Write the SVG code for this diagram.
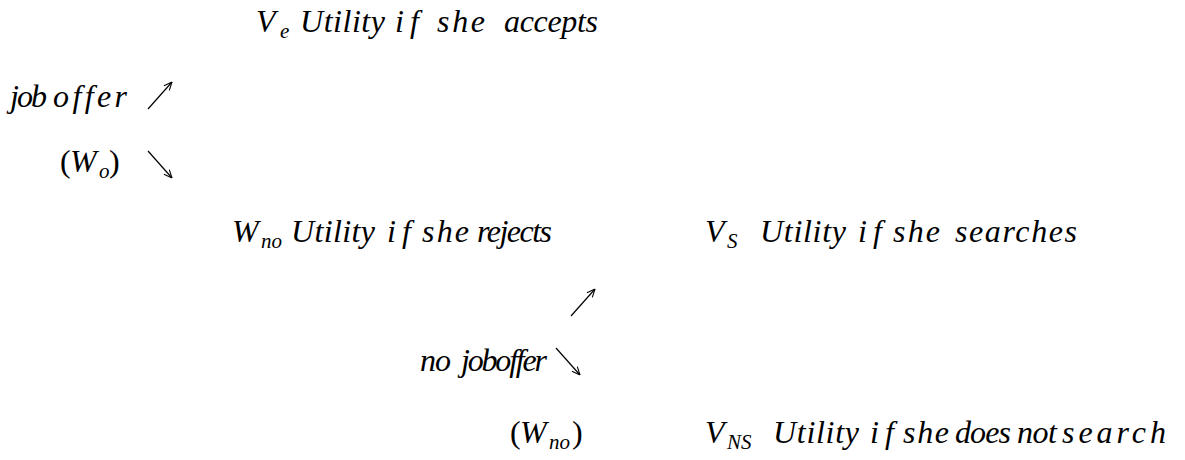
<svg xmlns="http://www.w3.org/2000/svg" width="1185" height="460" viewBox="0 0 1185 460">
<style>
text{font-family:"Liberation Serif","Times New Roman",serif;font-style:italic;font-size:32px;fill:#000}
.r{font-style:normal}
.s{font-size:21px}
.a{stroke:#000;stroke-width:1.2;fill:none}
</style>
<defs>
<marker id="ah" viewBox="0 0 10 10" refX="10" refY="5" markerWidth="9" markerHeight="9" markerUnits="userSpaceOnUse" orient="auto">
<path d="M1,1 L10,5 L1,9" fill="none" stroke="#000" stroke-width="1.2"/>
</marker>
</defs>
<g id="accept">
<text x="256" y="32">V</text><text class="s" x="280" y="38">e</text>
<text x="300" y="32" textLength="85" lengthAdjust="spacing">Utility</text>
<text x="395" y="32" textLength="24" lengthAdjust="spacing">if</text>
<text x="437" y="32" textLength="48" lengthAdjust="spacing">she</text>
<text x="504" y="32" textLength="94" lengthAdjust="spacing">accepts</text>
</g>
<g id="joboffer">
<text x="10" y="107" textLength="37" lengthAdjust="spacing">job</text>
<text x="53" y="107" textLength="74" lengthAdjust="spacing">offer</text>
</g>
<g id="wo">
<text class="r" x="60" y="172">(</text><text x="70" y="172">W</text><text class="s" x="99" y="178">o</text><text class="r" x="109" y="172">)</text>
</g>
<g id="reject">
<text x="232" y="242">W</text><text class="s" x="261" y="248">no</text>
<text x="291" y="242" textLength="84" lengthAdjust="spacing">Utility</text>
<text x="387" y="242" textLength="24" lengthAdjust="spacing">if</text>
<text x="422" y="242" textLength="47" lengthAdjust="spacing">she</text>
<text x="477" y="242" textLength="75" lengthAdjust="spacing">rejects</text>
</g>
<g id="search">
<text x="705" y="242">V</text><text class="s" x="727" y="248">S</text>
<text x="760" y="242" textLength="86" lengthAdjust="spacing">Utility</text>
<text x="858" y="242" textLength="24" lengthAdjust="spacing">if</text>
<text x="893" y="242" textLength="47" lengthAdjust="spacing">she</text>
<text x="955" y="242" textLength="122" lengthAdjust="spacing">searches</text>
</g>
<g id="nojoboffer">
<text x="420" y="371" textLength="31" lengthAdjust="spacing">no</text>
<text x="461" y="371" textLength="86" lengthAdjust="spacing">joboffer</text>
</g>
<g id="wno">
<text class="r" x="510" y="443">(</text><text x="520" y="443">W</text><text class="s" x="549" y="449">no</text><text class="r" x="572" y="443">)</text>
</g>
<g id="nosearch">
<text x="705" y="443">V</text><text class="s" x="727" y="449">NS</text>
<text x="773" y="443" textLength="86" lengthAdjust="spacing">Utility</text>
<text x="870" y="443" textLength="24" lengthAdjust="spacing">if</text>
<text x="903" y="443" textLength="46" lengthAdjust="spacing">she</text>
<text x="955" y="443" textLength="56" lengthAdjust="spacing">does</text>
<text x="1017" y="443" textLength="40" lengthAdjust="spacing">not</text>
<text x="1062" y="443" textLength="104" lengthAdjust="spacing">search</text>
</g>
<g id="connectors">
<line class="a" x1="148" y1="109" x2="172" y2="82" marker-end="url(#ah)"/>
<line class="a" x1="148" y1="151" x2="172" y2="178" marker-end="url(#ah)"/>
<line class="a" x1="571" y1="316" x2="595" y2="289" marker-end="url(#ah)"/>
<line class="a" x1="556" y1="348" x2="580" y2="375" marker-end="url(#ah)"/>
</g>
</svg>
